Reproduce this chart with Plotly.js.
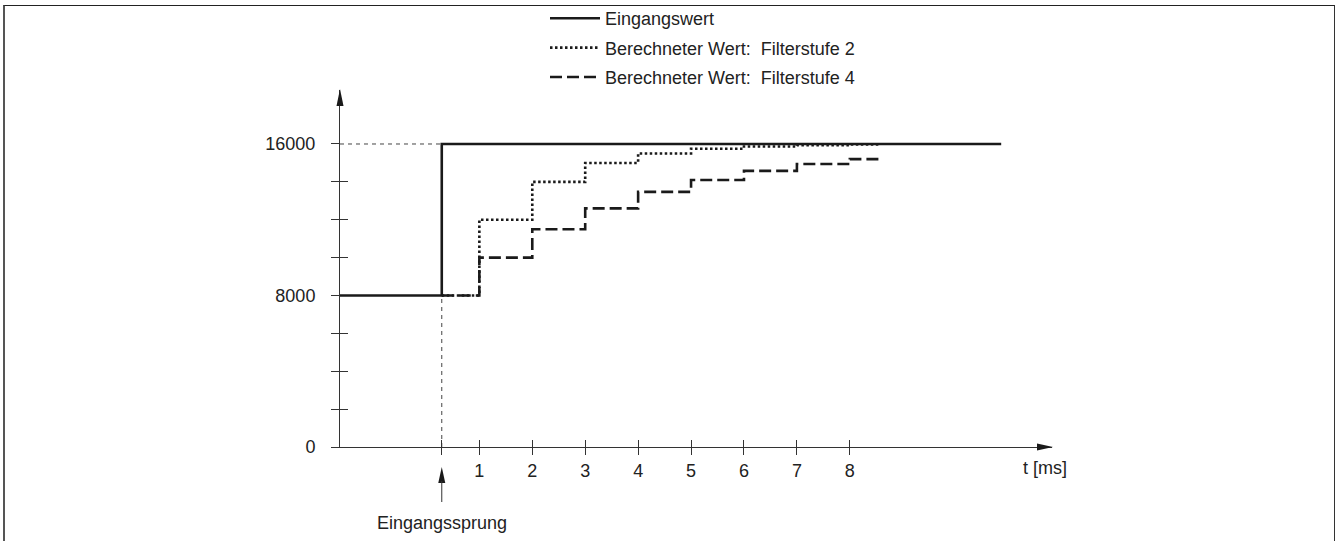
<!DOCTYPE html>
<html>
<head>
<meta charset="utf-8">
<script src="https://cdn.plot.ly/plotly-3.0.1.min.js"></script>
<style>
  html, body { margin: 0; padding: 0; background: #fff; }
  #wrap { position: relative; width: 1337px; height: 541px; overflow: hidden; }
  #chart { position: absolute; left: 0; top: 0; width: 1337px; height: 541px; }
  #frame { position: absolute; left: 3px; top: 5px; width: 1329px; height: 545px;
           border-top: 1px solid #222; border-right: 1px solid #333; border-left: 2px solid #555;
           pointer-events: none; }
</style>
</head>
<body>
<div id="wrap">
  <div id="chart"></div>
  <div id="frame"></div>
</div>
<script>
// ---- data ----
const seriesNames = ['Eingangswert', 'Berechneter Wert:\u00a0 Filterstufe 2', 'Berechneter Wert:\u00a0 Filterstufe 4'];
const jumpTime = 0.29;          // ms, input step
const axisStart = -1.633;       // ms, where the y axis sits
const axisEnd = 11.82;          // ms, x axis arrow tip
const inputTimes = [axisStart, jumpTime, 10.86];
const inputValues = [8000, 16000, 16000];
const filterTimes = [jumpTime, 1, 2, 3, 4, 5, 6, 7, 8, 8.55];
const filter2Values = [8000, 12000, 14000, 15000, 15500, 15750, 15870, 15940, 15970, 15970];
const filter4Values = [8000, 10000, 11500, 12600, 13470, 14100, 14580, 14940, 15200, 15200];
const xTickVals = [jumpTime, 1, 2, 3, 4, 5, 6, 7, 8];
const xTickText = ['', '1', '2', '3', '4', '5', '6', '7', '8'];
const yTickVals = [0, 2000, 4000, 6000, 8000, 10000, 12000, 14000, 16000];
const yTickText = ['0', '', '', '', '8000', '', '', '', '16000'];
const yMinorVals = [2000, 4000, 6000, 10000, 12000, 14000];
const yMax = 18851;
const xLabel = 't [ms]';
const jumpLabel = 'Eingangssprung';

const FONT = 'Liberation Sans, Arial, Helvetica, sans-serif';
const INK = '#1a1a1a';
const AX = '#333';

const traces = [
  { x: inputTimes, y: inputValues, name: seriesNames[0], mode: 'lines', line: { shape: 'hv', color: INK, width: 2.6 }, legendgroup: 'a', hoverinfo: 'skip' },
  { x: filterTimes, y: filter2Values, name: seriesNames[1], mode: 'lines', line: { shape: 'hv', color: INK, width: 2.6, dash: '2.5px,2.5px' }, legendgroup: 'b', hoverinfo: 'skip' },
  { x: filterTimes, y: filter4Values, name: seriesNames[2], mode: 'lines', line: { shape: 'hv', color: INK, width: 2.6, dash: '12px,5px' }, legendgroup: 'c', hoverinfo: 'skip' },
  // thin guide lines
  { x: [axisStart, jumpTime], y: [inputValues[1], inputValues[1]], mode: 'lines', line: { color: '#444', width: 1, dash: '4px,4px' }, showlegend: false, hoverinfo: 'skip' },
  { x: [jumpTime, jumpTime], y: [0, inputValues[0]], mode: 'lines', line: { color: '#444', width: 1, dash: '4px,4px' }, showlegend: false, hoverinfo: 'skip' },
  // empty traces to activate overlay axes (crossing ticks)
  { x: [], y: [], xaxis: 'x2', yaxis: 'y', showlegend: false, hoverinfo: 'skip' },
  { x: [], y: [], xaxis: 'x', yaxis: 'y2', showlegend: false, hoverinfo: 'skip' }
];
// guides beneath main lines
const ordered = [traces[3], traces[4], traces[5], traces[6], traces[0], traces[1], traces[2]];

const layout = {
  width: 1337, height: 541,
  margin: { l: 340, r: 285, t: 90, b: 94, pad: 0, autoexpand: false },
  paper_bgcolor: '#fff', plot_bgcolor: '#fff',
  font: { family: FONT, size: 18, color: '#222' },
  showlegend: true,
  legend: {
    xref: 'container', yref: 'container',
    x: 545 / 1337, y: 1 + 2 / 541, xanchor: 'left', yanchor: 'top',
    font: { family: FONT, size: 18, color: '#222' },
    bgcolor: 'rgba(0,0,0,0)', borderwidth: 0,
    itemwidth: 50, traceorder: 'grouped', tracegroupgap: 3
  },
  xaxis: {
    range: [axisStart, axisEnd], fixedrange: true,
    showline: true, linecolor: AX, linewidth: 1,
    showgrid: false, zeroline: false,
    tickmode: 'array', tickvals: xTickVals, ticktext: xTickText,
    ticks: 'outside', ticklen: 7, tickwidth: 1, tickcolor: AX,
    tickfont: { family: FONT, size: 18, color: '#222' }
  },
  xaxis2: {
    overlaying: 'x', anchor: 'y', side: 'bottom', matches: 'x',
    range: [axisStart, axisEnd], fixedrange: true,
    showline: false, showgrid: false, zeroline: false, showticklabels: false,
    tickmode: 'array', tickvals: xTickVals,
    ticks: 'inside', ticklen: 7, tickwidth: 1, tickcolor: AX
  },
  yaxis: {
    range: [0, yMax], fixedrange: true,
    showline: true, linecolor: AX, linewidth: 1,
    showgrid: false, zeroline: false,
    tickmode: 'array', tickvals: yTickVals, ticktext: yTickText,
    ticks: 'outside', ticklen: 8, tickwidth: 1, tickcolor: AX,
    ticklabelstandoff: 12,
    tickfont: { family: FONT, size: 18, color: '#222' }
  },
  yaxis2: {
    overlaying: 'y', anchor: 'x', side: 'left',
    range: [0, yMax], fixedrange: true,
    showline: false, showgrid: false, zeroline: false, showticklabels: false,
    tickmode: 'array', tickvals: yMinorVals,
    ticks: 'inside', ticklen: 8, tickwidth: 1, tickcolor: AX
  },
  shapes: [
    { type: 'path', xref: 'paper', yref: 'paper', xsizemode: 'pixel', ysizemode: 'pixel',
      xanchor: 1, yanchor: 0, path: 'M1,0 L-15,3.5 L-15,-3.5 Z',
      fillcolor: INK, line: { width: 0 }, layer: 'above' },
    { type: 'path', xref: 'paper', yref: 'paper', xsizemode: 'pixel', ysizemode: 'pixel',
      xanchor: 0, yanchor: 1, path: 'M0,1 L-3.5,-16 L3.5,-16 Z',
      fillcolor: INK, line: { width: 0 }, layer: 'above' },
    { type: 'path', xref: 'x', yref: 'paper', xsizemode: 'pixel', ysizemode: 'pixel',
      xanchor: jumpTime, yanchor: 0, path: 'M0,-20 L-3.5,-36 L3.5,-36 Z',
      fillcolor: INK, line: { width: 0 }, layer: 'above' },
    { type: 'path', xref: 'x', yref: 'paper', xsizemode: 'pixel', ysizemode: 'pixel',
      xanchor: jumpTime, yanchor: 0, path: 'M0,-34 L0,-55',
      line: { color: AX, width: 1 }, layer: 'above' }
  ],
  annotations: [
    { text: xLabel, xref: 'paper', yref: 'paper', x: (1045 - 340) / 712, y: -21 / 357,
      xanchor: 'center', yanchor: 'middle', showarrow: false,
      font: { family: FONT, size: 18, color: '#222' } },
    { text: jumpLabel, xref: 'x', yref: 'paper', x: jumpTime, y: -76 / 357,
      xanchor: 'center', yanchor: 'middle', showarrow: false,
      font: { family: FONT, size: 18, color: '#222' } }
  ]
};

Plotly.newPlot('chart', ordered, layout, { staticPlot: true, displayModeBar: false });
</script>
</body>
</html>
